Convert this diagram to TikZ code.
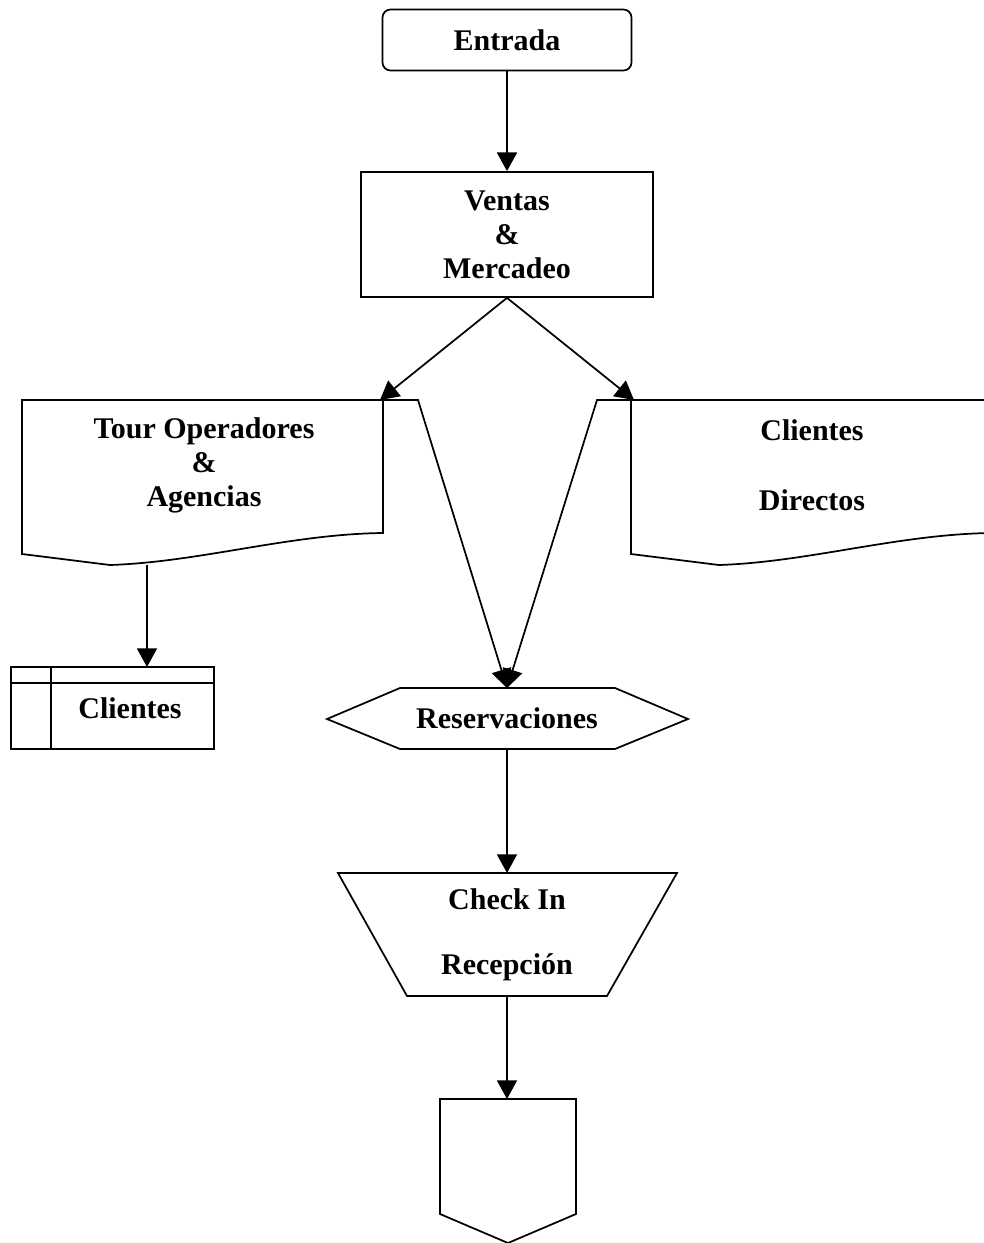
\documentclass[tikz,border=0pt]{standalone}
\usepackage{fontspec}
\setmainfont{Liberation Serif}
\usetikzlibrary{arrows.meta}
\begin{document}
\begin{tikzpicture}[x=0.75pt,y=-0.75pt,
  shapeline/.style={draw=black, line width=1.3pt, line join=miter},
  txt/.style={font=\fontsize{22.5}{25.5}\selectfont\bfseries, align=center, inner sep=0pt},
  widetxt/.style={font=\fontsize{22.5}{52.5}\selectfont\bfseries, align=center, inner sep=0pt},
  checktxt/.style={font=\fontsize{22.5}{48.75}\selectfont\bfseries, align=center, inner sep=0pt},
  flow/.style={draw=black, line width=1.3pt, -{Triangle[length=14pt,width=15pt]}},
  plain/.style={draw=black, line width=1.3pt},
]
\useasboundingbox (0,0) rectangle (984,1243);
\clip (0,0) rectangle (984,1243);

% Entrada
\node[shapeline, rounded corners=6pt, minimum width=186.75pt, minimum height=45.75pt, txt] (entrada) at (507,40) {Entrada};

% Ventas & Mercadeo
\node[shapeline, minimum width=219pt, minimum height=93.75pt, txt] (ventas) at (507,234.5) {Ventas\\\&\\Mercadeo};

\draw[flow] (entrada.south) -- (ventas.north);

% Tour Operadores document
\draw[shapeline] (22,400) -- (383,400) -- (383,533) .. controls (290,534) and (200,562) .. (110,565) -- (22,554) -- cycle;
\node[txt] (tour) at (204,465) {Tour Operadores\\\&\\Agencias};
\coordinate (tourin) at (380,400);
\coordinate (tourout) at (147,565);

% Clientes Directos document
\draw[shapeline] (631,400) -- (992,400) -- (992,533) .. controls (899,534) and (809,562) .. (719,565) -- (631,554) -- cycle;
\node[widetxt] (directos) at (812,465) {Clientes\\Directos};
\coordinate (dirin) at (634,400);

\draw[flow] (ventas.south) -- (tourin);
\draw[flow] (ventas.south) -- (dirin);

% Clientes (internal storage)
\draw[shapeline] (11,667) rectangle (214,749);
\draw[plain] (11,683) -- (214,683);
\draw[plain] (51,667) -- (51,749);
\node[txt] (clientes) at (130,708) {Clientes};
\coordinate (clientesin) at (147,667);
\draw[flow] (tourout) -- (clientesin);

% Reservaciones (hexagon)
\draw[shapeline] (327,719) -- (400,688) -- (615,688) -- (688,719) -- (615,749) -- (400,749) -- cycle;
\node[txt] (res) at (507,718) {Reservaciones};
\coordinate (resin) at (507,688);
\coordinate (resout) at (507,749);

% links from documents to Reservaciones
\coordinate (tl1) at (349,400);
\coordinate (tl2) at (418,400);
\coordinate (dl1) at (665,400);
\coordinate (dl2) at (597,400);
\draw[flow] (tl1) -- (tl2) -- (resin);
\draw[flow] (dl1) -- (dl2) -- (resin);

% Check In / Recepcion (trapezoid)
\draw[shapeline] (338,873) -- (677,873) -- (607,996) -- (407,996) -- cycle;
\node[checktxt] (check) at (507,934.5) {Check In\\Recepción};
\coordinate (checkin) at (507,873);
\coordinate (checkout) at (507,996);
\draw[flow] (resout) -- (checkin);

% Off-page connector
\draw[shapeline] (440,1099) -- (576,1099) -- (576,1214) -- (508,1243) -- (440,1214) -- cycle;
\coordinate (offin) at (507,1099);
\draw[flow] (checkout) -- (offin);
\end{tikzpicture}
\end{document}
